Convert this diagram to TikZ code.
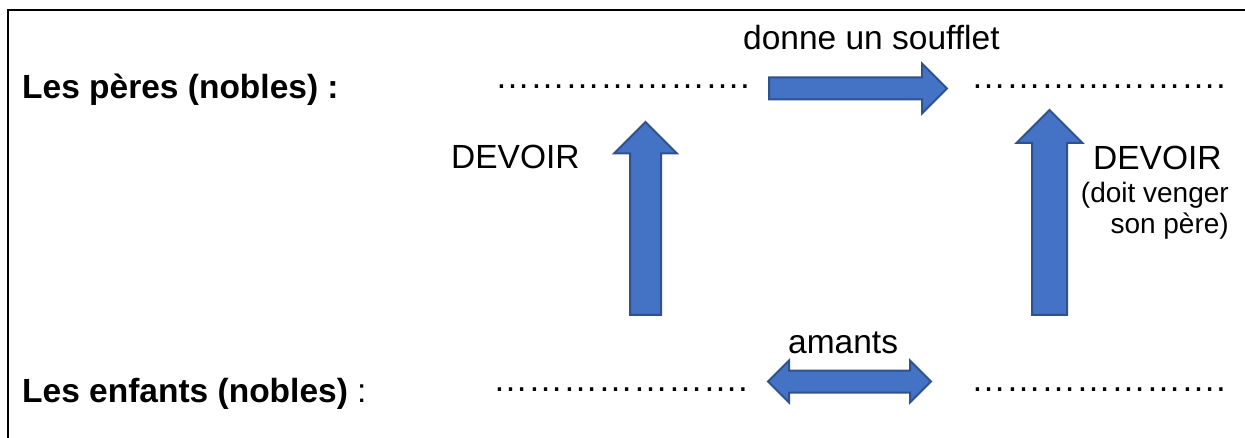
\documentclass[tikz,border=0pt]{standalone}
\usepackage{fontspec}
\setmainfont{Liberation Sans}
\usepackage{tikz}
\usetikzlibrary{shapes.arrows}

\definecolor{blocfill}{HTML}{4472C4}
\definecolor{blocline}{HTML}{2F528F}

\newcommand{\pts}{…}
\newcommand{\pointilles}{\pts\pts\pts\pts\pts\pts\pts.}

\tikzset{
  texte/.style={inner sep=0pt, anchor=base west, font=\fontsize{33.5}{40}\selectfont},
  petit/.style={inner sep=0pt, anchor=base east, font=\fontsize{28}{32}\selectfont},
  trous/.style={inner sep=0pt, anchor=base west, font=\fontsize{35}{40}\selectfont},
  fleche/.style={single arrow, draw=blocline, fill=blocfill, line width=2pt,
    inner sep=0pt, text width=0pt, text depth=0pt, anchor=tail},
  doublefleche/.style={double arrow, draw=blocline, fill=blocfill, line width=2pt,
    inner sep=0pt, text width=0pt, text depth=0pt}
}

\begin{document}
\begin{tikzpicture}[x=1pt, y=-1pt]
  \useasboundingbox (0,0) rectangle (1245,438);
  \draw[line width=2pt] (8,438) -- (8,10) -- (1245,10);

  % ligne des peres
  \node[texte] (perelabel) at (22,99) {\textbf{Les pères (nobles) :}};
  \node[trous] (pereA) at (495,89) {\pointilles};
  \node[trous] (pereB) at (971,89) {\pointilles};
  \node[texte] (soufflet) at (743,50) {donne un soufflet};
  \node[fleche, minimum height=178pt, text height=20pt,
    single arrow head extend=14pt] (souffletfl) at (768,88.5) {};

  % devoir
  \node[texte] (devoirA) at (451,169) {DEVOIR};
  \node[fleche, rotate=90, minimum height=193pt, text height=29pt,
    single arrow head extend=16pt] (devoirAfl) at (645.5,316) {};
  \node[texte] (devoirB) at (1093,170) {DEVOIR};
  \node[petit] (vengerA) at (1229,203) {(doit venger};
  \node[petit] (vengerB) at (1229,234) {son père)};
  \node[fleche, rotate=90, minimum height=205pt, text height=33pt,
    single arrow head extend=15.5pt] (devoirBfl) at (1049.5,316) {};

  % ligne des enfants
  \node[texte] (enfantlabel) at (22,402) {\textbf{Les enfants (nobles)} :};
  \node[trous] (enfantA) at (493,391) {\pointilles};
  \node[trous] (enfantB) at (971,391) {\pointilles};
  \node[texte] (amants) at (788,353) {amants};
  \node[doublefleche, minimum height=163pt, text height=20pt,
    double arrow head extend=10pt] (amantsfl) at (849.5,381.5) {};
\end{tikzpicture}
\end{document}
